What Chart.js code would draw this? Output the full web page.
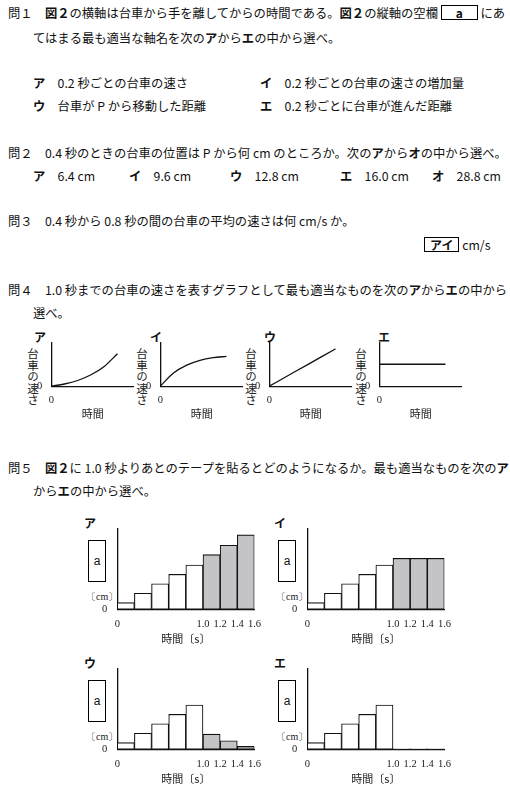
<!DOCTYPE html>
<html><head><meta charset="utf-8">
<script src="https://cdn.jsdelivr.net/npm/chart.js@4"></script>
<style>
body{margin:0;width:510px;height:796px;background:#fff;font-family:"Noto Sans CJK JP";color:#111;position:relative;overflow:hidden}
.t{position:absolute;font-size:12.3px;white-space:nowrap;line-height:16px}
b{font-weight:700}
.box{display:inline-block;border:1.5px solid #000;padding:0 14px;line-height:13px;font-weight:700;font-size:12px}
.c{position:absolute}
.vt{position:absolute;writing-mode:vertical-rl;font-size:11.5px;letter-spacing:0px;color:#222}
.lab{position:absolute;font-size:12px;font-weight:700}
.abox{position:absolute;border:1.2px solid #000;width:16px;height:40px;font-size:12px;text-align:center;line-height:40px;font-family:"Liberation Sans"}
.cm{position:absolute;font-size:10px;font-family:"Liberation Serif";color:#222}
</style></head><body>
<div class="t" style="left:8px;top:5px">問１　<b>図２</b>の横軸は台車から手を離してからの時間である。<b>図２</b>の縦軸の空欄 <span class="box">a</span> にあ</div>
<div class="t" style="left:33px;top:30px">てはまる最も適当な軸名を次の<b>ア</b>から<b>エ</b>の中から選べ。</div>
<div class="t" style="left:33px;top:75px"><b>ア</b>　0.2 秒ごとの台車の速さ</div>
<div class="t" style="left:260px;top:75px"><b>イ</b>　0.2 秒ごとの台車の速さの増加量</div>
<div class="t" style="left:33px;top:98px"><b>ウ</b>　台車が P から移動した距離</div>
<div class="t" style="left:260px;top:98px"><b>エ</b>　0.2 秒ごとに台車が進んだ距離</div>
<div class="t" style="left:8px;top:145px">問２　0.4 秒のときの台車の位置は P から何 cm のところか。次の<b>ア</b>から<b>オ</b>の中から選べ。</div>
<div class="t" style="left:33px;top:168px"><b>ア</b>　6.4 cm</div>
<div class="t" style="left:129px;top:168px"><b>イ</b>　9.6 cm</div>
<div class="t" style="left:230px;top:168px"><b>ウ</b>　12.8 cm</div>
<div class="t" style="left:340px;top:168px"><b>エ</b>　16.0 cm</div>
<div class="t" style="left:432px;top:168px"><b>オ</b>　28.8 cm</div>
<div class="t" style="left:8px;top:213px">問３　0.4 秒から 0.8 秒の間の台車の平均の速さは何 cm/s か。</div>
<div class="t" style="left:424px;top:237px"><span class="box" style="padding:0 5px">アイ</span> cm/s</div>
<div class="t" style="left:8px;top:282px">問４　1.0 秒までの台車の速さを表すグラフとして最も適当なものを次の<b>ア</b>から<b>エ</b>の中から</div>
<div class="t" style="left:33px;top:305px">選べ。</div>
<div class="lab" style="left:34px;top:328px">ア</div><div class="lab" style="left:150px;top:328px">イ</div><div class="lab" style="left:264px;top:328px">ウ</div><div class="lab" style="left:378px;top:328px">エ</div>
<div class="vt" style="left:25px;top:348px">台車の速さ</div><div class="vt" style="left:134px;top:348px">台車の速さ</div><div class="vt" style="left:243px;top:348px">台車の速さ</div><div class="vt" style="left:353px;top:348px">台車の速さ</div>
<div class="c" style="left:34px;top:335px;width:100px;height:85px"><canvas id="m0"></canvas></div>
<div class="c" style="left:143px;top:335px;width:100px;height:85px"><canvas id="m1"></canvas></div>
<div class="c" style="left:252px;top:335px;width:100px;height:85px"><canvas id="m2"></canvas></div>
<div class="c" style="left:362px;top:335px;width:100px;height:85px"><canvas id="m3"></canvas></div>
<div class="t" style="left:8px;top:460px">問５　<b>図２</b>に 1.0 秒よりあとのテープを貼るとどのようになるか。最も適当なものを次の<b>ア</b></div>
<div class="t" style="left:33px;top:483px">から<b>エ</b>の中から選べ。</div>
<div id="bars"></div>
<script>
const miniX=[0,0.2,0.4,0.6,0.8,1.0];
const miniA=[0,0.05,0.13,0.26,0.45,0.74];
const miniI=[0,0.3,0.48,0.59,0.65,0.68];
const miniU=[0,0.17,0.34,0.51,0.68,0.85];
const miniE=[0.5,0.5,0.5,0.5,0.5,0.5];
const barX=[0.1,0.3,0.5,0.7,0.9,1.1,1.3,1.5];
const barA=[0.7,1.7,2.7,3.7,4.7,5.8,6.8,7.9];
const barI=[0.7,1.7,2.7,3.7,4.7,5.4,5.4,5.4];
const barU=[0.7,1.7,2.7,3.7,4.7,1.6,0.9,0.3];
const barE=[0.7,1.7,2.7,3.7,4.7,0.04,0.04,0.04];
const xTicks=[0,1.0,1.2,1.4,1.6];
const xTitle='時間';
const barTitle='時間〔s〕';
const fnt={family:'Liberation Serif',size:10.5};
function mini(id,ys){
 new Chart(document.getElementById(id),{type:'line',
  data:{labels:miniX,datasets:[{data:miniX.map((x,i)=>({x,y:ys[i]})),borderColor:'#111',borderWidth:1.3,pointRadius:0,tension:0.4,cubicInterpolationMode:'monotone'}]},
  options:{animation:false,responsive:true,maintainAspectRatio:false,plugins:{legend:{display:false},tooltip:{enabled:false}},
   layout:{padding:{left:2}},
   scales:{x:{type:'linear',min:0,max:1.25,border:{color:'#111',width:1.3},grid:{display:false},afterBuildTicks:s=>{s.ticks=[{value:0}]},ticks:{color:'#222',font:fnt,padding:0},title:{display:true,text:xTitle,color:'#222',font:{family:'Noto Sans CJK JP',size:11},padding:0}},
    y:{min:0,max:1,border:{color:'#111',width:1.3},grid:{display:false},afterBuildTicks:s=>{s.ticks=[{value:0}]},ticks:{color:'#222',font:fnt,padding:1}}}}});
}
mini('m0',miniA);mini('m1',miniI);mini('m2',miniU);mini('m3',miniE);
const panels=[['ア',80,520,barA],['イ',270,520,barI],['ウ',80,660,barU],['エ',270,660,barE]];
let h='';
panels.forEach((p,i)=>{h+=`<div class="lab" style="left:${p[1]+4}px;top:${p[2]-6}px">${p[0]}</div><div class="abox" style="left:${p[1]+8}px;top:${p[2]+20}px">a</div><div class="cm" style="left:${p[1]+6}px;top:${p[2]+70}px">〔cm〕</div><div class="c" style="left:${p[1]+20}px;top:${p[2]}px;width:162px;height:125px"><canvas id="b${i}"></canvas></div>`});
document.getElementById('bars').innerHTML=h;
panels.forEach((p,i)=>{
 new Chart(document.getElementById('b'+i),{type:'bar',
  data:{datasets:[{data:barX.map((x,j)=>({x,y:p[3][j]})),backgroundColor:barX.map(x=>x>1?'#c4c4c6':'#fff'),borderColor:'#111',borderWidth:1.1,barPercentage:1,categoryPercentage:1,borderSkipped:false}]},
  options:{animation:false,responsive:true,maintainAspectRatio:false,plugins:{legend:{display:false},tooltip:{enabled:false}},
   scales:{x:{type:'linear',min:0,max:1.6,offset:false,border:{color:'#111',width:1.3},grid:{display:false},afterBuildTicks:s=>{s.ticks=xTicks.map(v=>({value:v}))},ticks:{color:'#222',font:fnt,padding:1,maxRotation:0,autoSkip:false,callback:v=>v===0?'0':v.toFixed(1)},title:{display:true,text:barTitle,color:'#222',font:{family:'Noto Sans CJK JP',size:11},padding:0}},
    y:{min:0,max:8.6,border:{color:'#111',width:1.3},grid:{display:false},afterBuildTicks:s=>{s.ticks=[{value:0}]},ticks:{color:'#222',font:fnt,padding:2}}}}});
});
</script>
</body></html>
